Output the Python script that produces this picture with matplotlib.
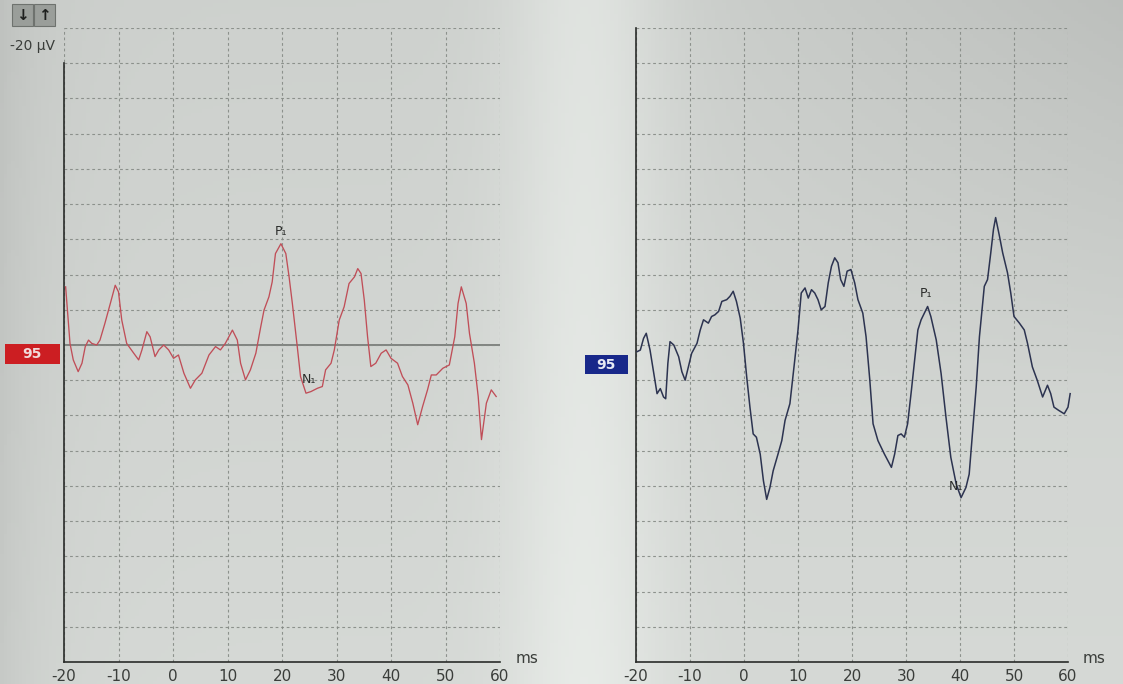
import numpy as np
import matplotlib
matplotlib.use("Agg")
import matplotlib.pyplot as plt
from matplotlib.patches import Rectangle

# ============================== DATA ==============================

# left trace (red), time in ms, amplitude in uV
left_t = [-19.7, -18.9, -18.3, -17.4, -16.7, -16.1, -15.5, -14.9, -14.0, -13.4,
          -12.5, -11.5, -10.6, -10.0, -9.4, -8.5, -7.2, -6.3, -5.7, -4.8,
          -4.2, -3.3, -2.6, -1.7, -0.8, 0.1, 1.0, 2.0, 3.2, 4.1,
          5.3, 6.6, 7.8, 8.7, 9.6, 10.9, 11.8, 12.4, 13.3, 14.2,
          15.2, 16.1, 16.7, 17.6, 18.2, 18.8, 19.8, 20.7, 21.3, 21.9,
          22.8, 23.4, 24.4, 25.3, 26.5, 27.4, 28.0, 29.0, 29.6, 30.5,
          31.4, 32.3, 33.3, 33.9, 34.5, 35.1, 35.7, 36.3, 37.2, 38.2,
          39.1, 40.0, 41.2, 42.1, 43.1, 44.0, 44.9, 45.8, 46.7, 47.4,
          48.3, 49.5, 50.7, 51.7, 52.3, 52.9, 53.8, 54.4, 55.3, 56.0,
          56.6, 57.5, 58.4, 59.3]
left_v = [3.67, 0.10, -0.94, -1.68, -1.15, -0.10, 0.31, 0.10, 0.00, 0.31,
          1.36, 2.62, 3.77, 3.35, 1.57, 0.10, -0.52, -0.94, -0.31, 0.84,
          0.52, -0.73, -0.31, 0.00, -0.31, -0.84, -0.63, -1.78, -2.73, -2.20,
          -1.78, -0.63, -0.10, -0.31, 0.10, 0.94, 0.31, -1.15, -2.20, -1.57,
          -0.52, 1.15, 2.20, 3.04, 3.98, 5.77, 6.39, 5.77, 4.30, 2.62,
          -0.10, -1.99, -3.04, -2.94, -2.73, -2.62, -1.57, -1.15, -0.31, 1.57,
          2.41, 3.88, 4.30, 4.82, 4.51, 2.83, 0.52, -1.36, -1.15, -0.52,
          -0.31, -0.84, -1.15, -1.99, -2.52, -3.67, -5.03, -3.88, -2.83, -1.89,
          -1.89, -1.47, -1.26, 0.52, 2.62, 3.67, 2.62, 0.73, -1.15, -3.25,
          -5.97, -3.67, -2.83, -3.25]

# right trace (dark blue)
right_t = [-19.8, -19.2, -18.6, -18.1, -17.4, -16.7, -16.1, -15.5, -14.9, -14.5,
           -14.1, -13.7, -13.0, -12.1, -11.5, -10.9, -10.3, -9.7, -8.7, -8.1,
           -7.5, -6.6, -6.0, -5.4, -4.7, -4.1, -3.2, -2.6, -2.0, -1.4,
           -0.7, -0.1, 0.5, 1.1, 1.7, 2.3, 3.0, 3.6, 4.2, 4.8,
           5.4, 6.3, 7.0, 7.6, 8.5, 9.4, 10.0, 10.6, 11.3, 11.9,
           12.5, 13.1, 13.7, 14.3, 15.0, 15.6, 16.2, 16.8, 17.4, 17.9,
           18.5, 19.1, 19.8, 20.5, 21.1, 22.0, 22.6, 23.3, 23.9, 24.8,
           26.0, 27.3, 27.9, 28.5, 29.1, 29.7, 30.3, 31.0, 31.6, 32.2,
           32.8, 33.4, 34.0, 34.6, 35.6, 36.5, 37.4, 38.3, 39.3, 40.2,
           41.1, 41.7, 42.3, 43.0, 43.6, 44.5, 45.1, 45.7, 46.2, 46.6,
           47.3, 47.9, 48.8, 49.4, 50.0, 51.0, 51.9, 52.5, 53.4, 54.3,
           55.3, 56.2, 56.8, 57.4, 58.3, 59.3, 60.0, 60.4]
right_v = [-0.42, -0.32, 0.42, 0.74, -0.32, -1.80, -3.07, -2.75, -3.28, -3.39,
           -1.16, 0.21, 0.00, -0.74, -1.69, -2.22, -1.38, -0.53, 0.11, 0.95,
           1.59, 1.38, 1.80, 1.90, 2.12, 2.75, 2.86, 3.07, 3.39, 2.75,
           1.69, 0.11, -2.01, -3.92, -5.61, -5.82, -6.88, -8.57, -9.74, -8.99,
           -7.94, -6.88, -6.03, -4.76, -3.70, -0.95, 0.95, 3.28, 3.60, 2.96,
           3.49, 3.28, 2.86, 2.22, 2.43, 3.92, 4.97, 5.50, 5.19, 4.13,
           3.70, 4.66, 4.76, 3.92, 2.86, 2.01, 0.53, -2.22, -4.97, -6.03,
           -6.88, -7.72, -6.88, -5.71, -5.61, -5.82, -4.97, -2.86, -0.95, 0.95,
           1.59, 2.01, 2.43, 1.80, 0.32, -1.80, -4.55, -7.09, -8.78, -9.63,
           -8.99, -8.15, -5.61, -2.65, 0.53, 3.70, 4.13, 5.82, 7.30, 8.04,
           6.88, 5.82, 4.55, 3.28, 1.80, 1.38, 0.95, 0.11, -1.38, -2.22,
           -3.28, -2.54, -3.07, -3.92, -4.13, -4.34, -3.92, -3.07]

# peak markers: (label, time ms, amplitude uV)
left_peaks = [("P\u2081", 19.8, 6.39), ("N\u2081", 24.4, -3.04)]
right_peaks = [("P\u2081", 34.0, 2.43), ("N\u2081", 40.2, -9.63)]

x_ticks = [-20, -10, 0, 10, 20, 30, 40, 50, 60]
channel_label = "95"

# ==================================================================

W, H = 1123, 684
N_DIV = 18
Y_LIM = 20.0


def fx(px):
    return px / W


def fy(py):
    return 1 - py / H


fig = plt.figure(figsize=(W / 100, H / 100), dpi=100)
fig.patch.set_facecolor("#d0d4cf")

# photo-like background shading (brighter middle, darker edges / top right)
bg = fig.add_axes([0, 0, 1, 1], zorder=-10)
gx, gy = np.meshgrid(np.linspace(0, 1, 300), np.linspace(0, 1, 200))
shade = (0.82
         + 0.07 * np.exp(-((gx - 0.52) / 0.07) ** 2)
         - 0.06 * np.exp(-gx / 0.04)
         - 0.07 * np.clip(gx - 0.55, 0, None) * np.clip(1 - gy * 1.6, 0, None) * 2.2
         + 0.03 * gy)
img = np.clip(np.dstack([shade * 0.985, shade * 1.0, shade * 0.985]), 0, 1)
bg.imshow(img, aspect="auto", extent=[0, 1, 0, 1], origin="upper")
bg.axis("off")

ax_l = fig.add_axes([fx(64), fy(662), fx(500 - 64), (662 - 28) / H])
ax_r = fig.add_axes([fx(636), fy(662), fx(1068 - 636), (662 - 28) / H])

grid_col = "#858a85"
for ax in (ax_l, ax_r):
    ax.set_facecolor("none")
    ax.set_xlim(-20, 60)
    ax.set_ylim(-Y_LIM, Y_LIM)
    ax.set_xticks(x_ticks)
    ax.set_xticklabels([str(t) for t in x_ticks], fontsize=11, color="#3a3d3a")
    ax.set_yticks(np.linspace(-Y_LIM, Y_LIM, N_DIV + 1))
    ax.set_yticklabels([])
    ax.tick_params(length=0, pad=5)
    ax.grid(True, color=grid_col, lw=0.8, ls=(0, (2.5, 2.5)), alpha=0.9)
    for s in ("top", "right"):
        ax.spines[s].set_visible(False)
    for s in ("left", "bottom"):
        ax.spines[s].set_color("#2a2c2a")
        ax.spines[s].set_linewidth(1.2)
    ax.text(1.035, 0.005, "ms", transform=ax.transAxes, fontsize=11,
            color="#3a3d3a", ha="left", va="center")

ax_l.spines["left"].set_bounds(-Y_LIM, Y_LIM - 2 * Y_LIM / N_DIV)
ax_l.axhline(0, color="#6a6d6a", lw=1.1, zorder=1)

ax_l.plot(left_t, left_v, color="#c04e58", lw=0.95, zorder=3)
ax_r.plot(right_t, right_v, color="#2c3350", lw=1.1, zorder=3, clip_on=False)

for ax, peaks, offs in ((ax_l, left_peaks, [(0, 9), (2, 10)]),
                        (ax_r, right_peaks, [(-1, 9), (-4, 8)])):
    for (lab, t, v), (dx, dy) in zip(peaks, offs):
        ax.annotate(lab, (t, v), xytext=(dx, dy), textcoords="offset points",
                    ha="center", va="center",
                    fontsize=9, color="#2a2c2a", zorder=4)

# channel boxes
fig.add_artist(Rectangle((fx(5), fy(364)), fx(55), (364 - 344) / H,
                         transform=fig.transFigure, facecolor="#cc1e22",
                         edgecolor="none"))
fig.text(fx(32), fy(354), channel_label, color="#f2dada", fontsize=10,
         fontweight="bold", ha="center", va="center")
fig.add_artist(Rectangle((fx(585), fy(374)), fx(43), (374 - 355) / H,
                         transform=fig.transFigure, facecolor="#18288a",
                         edgecolor="none"))
fig.text(fx(606), fy(364.5), channel_label, color="#e8eaf4", fontsize=10,
         fontweight="bold", ha="center", va="center")

# top-left scale label and buttons
fig.text(fx(10), fy(46), "-20 \u00b5V", fontsize=10, color="#3a3d3a",
         ha="left", va="center")
for i, sym in enumerate(["\u2193", "\u2191"]):
    x0 = 12 + i * 22
    fig.add_artist(Rectangle((fx(x0), fy(26)), fx(21), 22 / H,
                             transform=fig.transFigure, facecolor="#9a9e9a",
                             edgecolor="#6e726e", lw=0.8))
    fig.text(fx(x0 + 10.5), fy(15), sym, fontsize=11, color="#1e201e",
             ha="center", va="center", fontweight="bold")

fig.savefig("out.png", dpi=100)
